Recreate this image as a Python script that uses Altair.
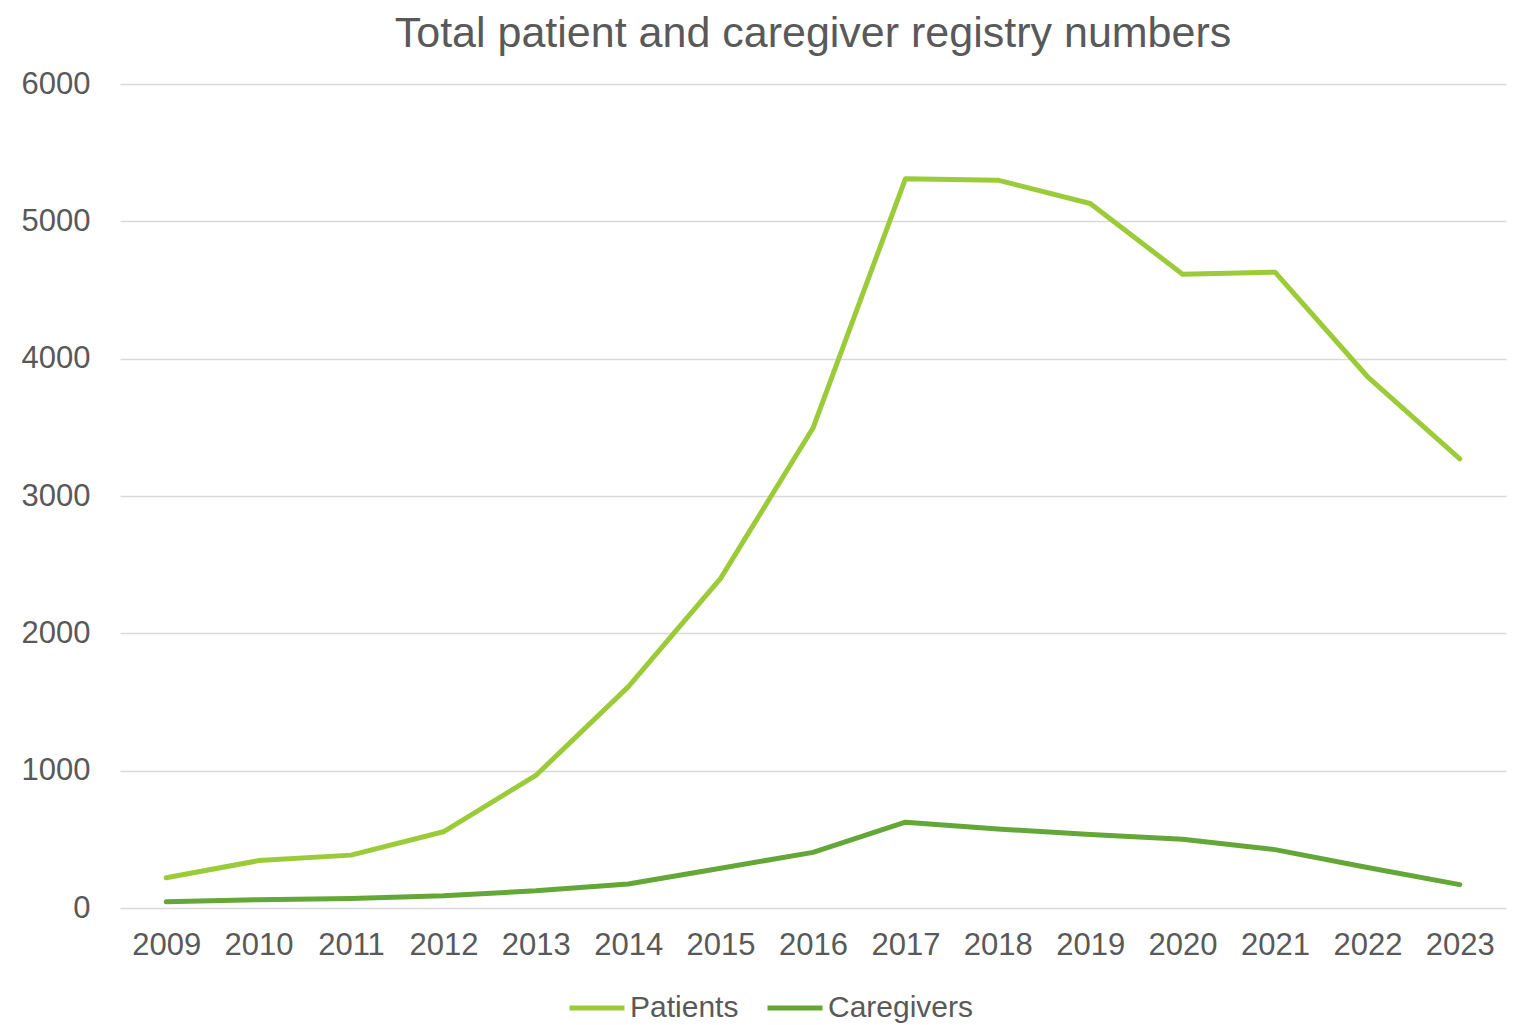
import altair as alt
import pandas as pd

years = [str(y) for y in range(2009, 2024)]
patients = [220, 345, 385, 555, 965, 1610, 2400, 3495, 5310, 5300, 5130, 4615, 4630, 3870, 3270]
caregivers = [45, 60, 70, 90, 125, 175, 290, 405, 625, 575, 535, 500, 425, 295, 170]
series = ["Patients", "Caregivers"]
colors = ["#9BCB38", "#63A737"]

rows = []
for y, p, c in zip(years, patients, caregivers):
    rows.append({"Year": y, "Series": "Patients", "Value": p})
    rows.append({"Year": y, "Series": "Caregivers", "Value": c})
df = pd.DataFrame(rows)

FONT = "Liberation Sans, Arial, sans-serif"
GRAY = "#595959"

chart = alt.Chart(df).mark_line(strokeWidth=5, strokeCap="round", strokeJoin="round").encode(
    x=alt.X("Year:O", sort=years, title=None,
            scale=alt.Scale(type="point", padding=0.5),
            axis=alt.Axis(labelAngle=0, ticks=False, domain=False, grid=False,
                          labelFontSize=31, labelColor=GRAY, labelFont=FONT, labelPadding=22)),
    y=alt.Y("Value:Q", title=None,
            scale=alt.Scale(domain=[0, 6000], nice=False),
            axis=alt.Axis(values=[0, 1000, 2000, 3000, 4000, 5000, 6000], format="d",
                          ticks=False, domain=False,
                          gridColor="#D9D9D9", gridWidth=1.5,
                          labelFontSize=31, labelColor=GRAY, labelFont=FONT, labelPadding=30)),
    color=alt.Color("Series:N", sort=series,
                    scale=alt.Scale(domain=series, range=colors),
                    legend=alt.Legend(title=None, orient="none", direction="horizontal",
                                      legendX=447, legendY=894,
                                      symbolType="stroke", symbolSize=3025, symbolStrokeWidth=5,
                                      labelFontSize=30, labelColor=GRAY, labelFont=FONT,
                                      labelOffset=3, columnPadding=18)),
).properties(
    width=1386,
    height=824,
    title=alt.TitleParams("Total patient and caregiver registry numbers", fontSize=43,
                          font=FONT, color=GRAY, fontWeight="normal", anchor="middle", offset=12),
    autosize=alt.AutoSizeParams(type="none"),
    padding={"left": 112, "top": 76, "right": 2, "bottom": 125},
).configure_view(stroke=None)

chart.save("out.html", embed_options={"renderer": "svg", "actions": False})
